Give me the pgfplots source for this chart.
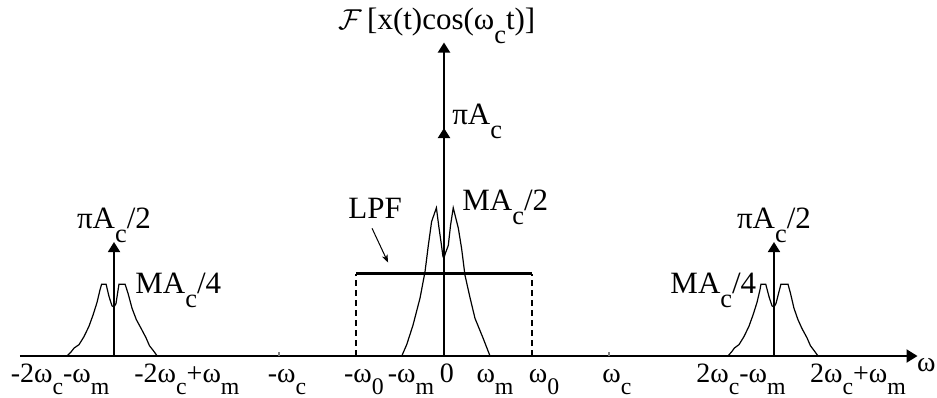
\documentclass[border=0pt]{standalone}
\usepackage{fontspec}
\setmainfont{Liberation Serif}
\usepackage{pgfplots}
\pgfplotsset{compat=1.18}
\usetikzlibrary{arrows.meta}

% lowered subscript in the style of the drawing
\newcommand\sub[1]{\raisebox{-1.0ex}{\scalebox{0.85}{#1}}}
\tikzset{lbl/.style={font=\fontsize{15.5}{18}\selectfont}}

\begin{document}
\begin{tikzpicture}
\begin{axis}[
  x=82.5pt, y=57pt,
  xmin=-2.57, xmax=2.87, ymin=0, ymax=2.75,
  enlargelimits=false,
  clip=false,
  axis lines=middle,
  axis line style={line width=1pt},
  x axis line style={-{Triangle[length=5.5pt,width=6.5pt]}},
  y axis line style={-{Triangle[length=5pt,width=6pt]}},
  ytick=\empty,
  xtick={-2.327,-1.558,-0.952,-0.485,-0.200,0.018,0.309,0.606,1.048,1.800,2.509},
  xticklabels={{-2ω\sub{c}-ω\sub{m}},{-2ω\sub{c}+ω\sub{m}},{-ω\sub{c}},{-ω\sub{0}},{-ω\sub{m}},{0},
               {ω\sub{m}},{ω\sub{0}},{ω\sub{c}},{2ω\sub{c}-ω\sub{m}},{2ω\sub{c}+ω\sub{m}}},
  major tick length=0pt,
  hide obscured x ticks=false,
  xticklabel style={font=\fontsize{14}{16}\selectfont, anchor=base, yshift=-13pt, inner sep=0pt},
  extra x ticks={-1,1},
  extra x tick labels={},
  extra x tick style={major tick length=2pt, tick align=inside, tick style={line width=0.6pt}},
]
% impulses
\addplot[line width=1pt, -{Triangle[length=5pt,width=6pt]}] coordinates {(0,0) (0,2)};
\addplot[line width=0.9pt, -{Triangle[length=5pt,width=6pt]}] coordinates {(-2,0) (-2,1)};
\addplot[line width=0.9pt, -{Triangle[length=5pt,width=6pt]}] coordinates {(2,0) (2,1)};

% baseband spectrum
\addplot[line width=0.6pt] coordinates {
 (-0.256,0) (-0.226,0.10) (-0.188,0.27) (-0.145,0.51) (-0.115,0.74) (-0.095,0.97)
 (-0.075,1.18) (-0.046,1.30) (-0.030,1.12) (-0.018,1.00) (-0.006,0.87) (0,0.86)
 (0.008,0.90) (0.026,0.97) (0.040,1.15) (0.056,1.30) (0.087,1.12) (0.107,0.94)
 (0.127,0.71) (0.158,0.51) (0.188,0.33) (0.236,0.16) (0.279,0)};

% spectrum around -2 wc
\addplot[line width=0.6pt] coordinates {
 (-2.285,0) (-2.258,0.04) (-2.242,0.07) (-2.212,0.10) (-2.182,0.17) (-2.152,0.26)
 (-2.127,0.36) (-2.103,0.47) (-2.085,0.58) (-2.075,0.63) (-2.048,0.63) (-2.030,0.52)
 (-2.012,0.44) (-2.000,0.43) (-1.988,0.46) (-1.970,0.63) (-1.933,0.63) (-1.915,0.55)
 (-1.891,0.42) (-1.865,0.32) (-1.835,0.24) (-1.806,0.16) (-1.785,0.09) (-1.763,0.05)
 (-1.738,0)};

% spectrum around +2 wc
\addplot[line width=0.6pt] coordinates {
 (1.721,0) (1.745,0.04) (1.760,0.07) (1.788,0.10) (1.818,0.17) (1.848,0.26)
 (1.873,0.36) (1.897,0.47) (1.915,0.58) (1.921,0.63) (1.950,0.63) (1.970,0.52)
 (1.988,0.44) (2.000,0.43) (2.012,0.46) (2.042,0.63) (2.085,0.63) (2.100,0.55)
 (2.121,0.42) (2.145,0.32) (2.170,0.24) (2.200,0.16) (2.221,0.09) (2.242,0.05)
 (2.267,0)};

% low-pass filter
\addplot[line width=1.5pt] coordinates {(-0.533,0.72) (0.533,0.72)};
\addplot[line width=0.6pt, dash pattern=on 3pt off 2pt] coordinates {(-0.533,0) (-0.533,0.72)};
\addplot[line width=0.6pt, dash pattern=on 3pt off 2pt] coordinates {(0.533,0) (0.533,0.72)};
\addplot[line width=0.5pt, -{Stealth[length=4pt,width=3pt]}] coordinates {(-0.436,1.12) (-0.339,0.82)};

% labels
\node[lbl, anchor=base west, inner sep=0pt] at (axis cs:-0.642,2.868) {$\mathcal{F}$\,[x(t)cos(ω\sub{c}t)]};
\node[lbl, anchor=base west, inner sep=0pt] at (axis cs:0.048,2.035) {πA\sub{c}};
\node[lbl, anchor=base west, inner sep=0pt] at (axis cs:0.109,1.28) {MA\sub{c}/2};
\node[lbl, anchor=base, inner sep=0pt] at (axis cs:-2,1.12) {πA\sub{c}/2};
\node[lbl, anchor=base, inner sep=0pt] at (axis cs:2,1.12) {πA\sub{c}/2};
\node[lbl, anchor=base west, inner sep=0pt] at (axis cs:-1.873,0.55) {MA\sub{c}/4};
\node[lbl, anchor=base west, inner sep=0pt] at (axis cs:1.370,0.55) {MA\sub{c}/4};
\node[lbl, anchor=base, inner sep=0pt] at (axis cs:-0.418,1.21) {LPF};
\node[anchor=base east, inner sep=0pt, font=\fontsize{14}{16}\selectfont] at (axis cs:2.982,-0.14) {ω};

\coordinate (bbsw) at (axis cs:-2.691,-0.368);
\coordinate (bbne) at (axis cs:2.988,3.123);
\end{axis}
\pgfresetboundingbox
\useasboundingbox (bbsw) rectangle (bbne);
\end{tikzpicture}
\end{document}
